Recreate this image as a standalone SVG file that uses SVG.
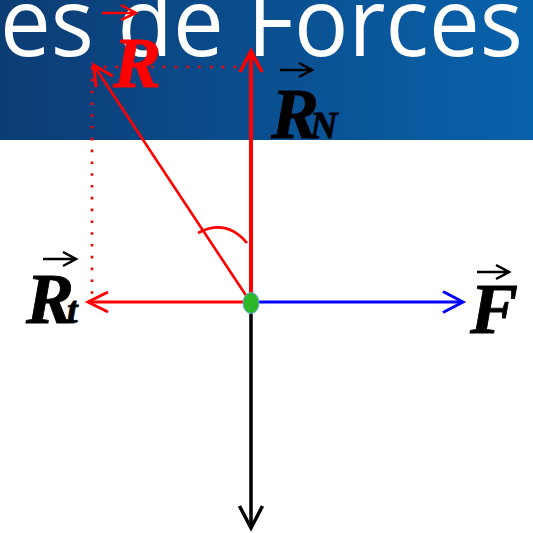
<svg xmlns="http://www.w3.org/2000/svg" width="533" height="533" viewBox="0 0 533 533">
  <defs>
    <linearGradient id="band" x1="0" y1="0" x2="1" y2="0">
      <stop offset="0" stop-color="#0c3c74"/>
      <stop offset="1" stop-color="#0862ab"/>
    </linearGradient>
    <marker id="hRed" markerUnits="userSpaceOnUse" orient="auto" refX="0" refY="0" markerWidth="40" markerHeight="40" viewBox="-30 -20 40 40" overflow="visible">
      <path d="M-21,-11 L0,0 L-21,11" fill="none" stroke="#ff0000" stroke-width="3.5"/>
    </marker>
    <marker id="hRedThin" markerUnits="userSpaceOnUse" orient="auto" refX="0" refY="0" markerWidth="40" markerHeight="40" viewBox="-30 -20 40 40" overflow="visible">
      <path d="M-20,-10 L0,0 L-20,10" fill="none" stroke="#ff0000" stroke-width="3"/>
    </marker>
    <marker id="hBlue" markerUnits="userSpaceOnUse" orient="auto" refX="0" refY="0" markerWidth="40" markerHeight="40" viewBox="-30 -20 40 40" overflow="visible">
      <path d="M-20,-10.5 L0,0 L-20,10.5" fill="none" stroke="#0000ff" stroke-width="3"/>
    </marker>
    <marker id="hBlack" markerUnits="userSpaceOnUse" orient="auto" refX="0" refY="0" markerWidth="40" markerHeight="40" viewBox="-30 -20 40 40" overflow="visible">
      <path d="M-22,-11.5 L0,0 L-22,11.5" fill="none" stroke="#000000" stroke-width="3.5"/>
    </marker>
  </defs>
  <style>
    .title { font-family: "Open Sans", "Liberation Sans", sans-serif; font-size: 95px; fill: #ffffff; }
    .vec { font-family: "Liberation Serif", "Times New Roman", serif; font-weight: bold; font-style: italic; stroke-width: 0.8; }
    .big { font-size: 72px; }
    .sub { font-size: 38px; }
    .acc { fill: none; stroke-width: 2.5; stroke-linecap: butt; }
    .dot { fill: none; stroke: #ff0000; stroke-width: 2.6; stroke-dasharray: 2.6 9.2; }
  </style>

  <g id="header">
    <rect x="0" y="0" width="533" height="140" fill="url(#band)"/>
    <text class="title" x="0" y="56" textLength="523" lengthAdjust="spacingAndGlyphs">es de Forces</text>
  </g>

  <g id="connectors">
    <path class="dot" d="M92,67 L240,67"/>
    <path class="dot" d="M92,67 L92,298"/>
    <path d="M251,303 L251,51" stroke="#ff0000" stroke-width="4" fill="none" marker-end="url(#hRed)"/>
    <path d="M251,303 L93.5,65" stroke="#ff0000" stroke-width="2.6" fill="none" marker-end="url(#hRedThin)"/>
    <path d="M251,302 L88,302" stroke="#ff0000" stroke-width="3" fill="none" marker-end="url(#hRedThin)"/>
    <path d="M251,302 L463,302" stroke="#0000ff" stroke-width="3" fill="none" marker-end="url(#hBlue)"/>
    <path d="M251,303 L251,528" stroke="#000000" stroke-width="3.5" fill="none" marker-end="url(#hBlack)"/>
    <path d="M198,233 Q226,218 247,243" stroke="#ff0000" stroke-width="2.6" fill="none"/>
  </g>

  <g id="origin">
    <ellipse cx="251" cy="303" rx="8" ry="10.5" fill="#2db82a" stroke="#6fa8dc" stroke-width="1"/>
  </g>

  <g id="label-R">
    <path class="acc" stroke="#ff0000" stroke-width="3" d="M102,13 L136,13 M121,5 L136,13 L121,20"/>
    <text class="vec big" x="113" y="87" fill="#ff0000" stroke="#ff0000" font-size="75">R</text>
  </g>

  <g id="label-RN">
    <path class="acc" stroke="#000000" d="M280,70 L312,70 M299,63 L312,70 L299,77"/>
    <text class="vec big" x="271" y="138" fill="#000000" stroke="#000000">R</text>
    <text class="vec sub" x="310" y="138" fill="#000000" stroke="#000000">N</text>
  </g>

  <g id="label-Rt">
    <path class="acc" stroke="#000000" d="M43,259 L76,259 M63,252 L76,259 L63,266"/>
    <text class="vec big" x="26" y="323" fill="#000000" stroke="#000000">R</text>
    <text class="vec sub" x="67" y="323" fill="#000000" stroke="#000000">t</text>
  </g>

  <g id="label-F">
    <path class="acc" stroke="#000000" d="M477,272 L509,272 M496,265 L509,272 L496,279"/>
    <text class="vec big" x="470" y="333" fill="#000000" stroke="#000000">F</text>
  </g>
</svg>
